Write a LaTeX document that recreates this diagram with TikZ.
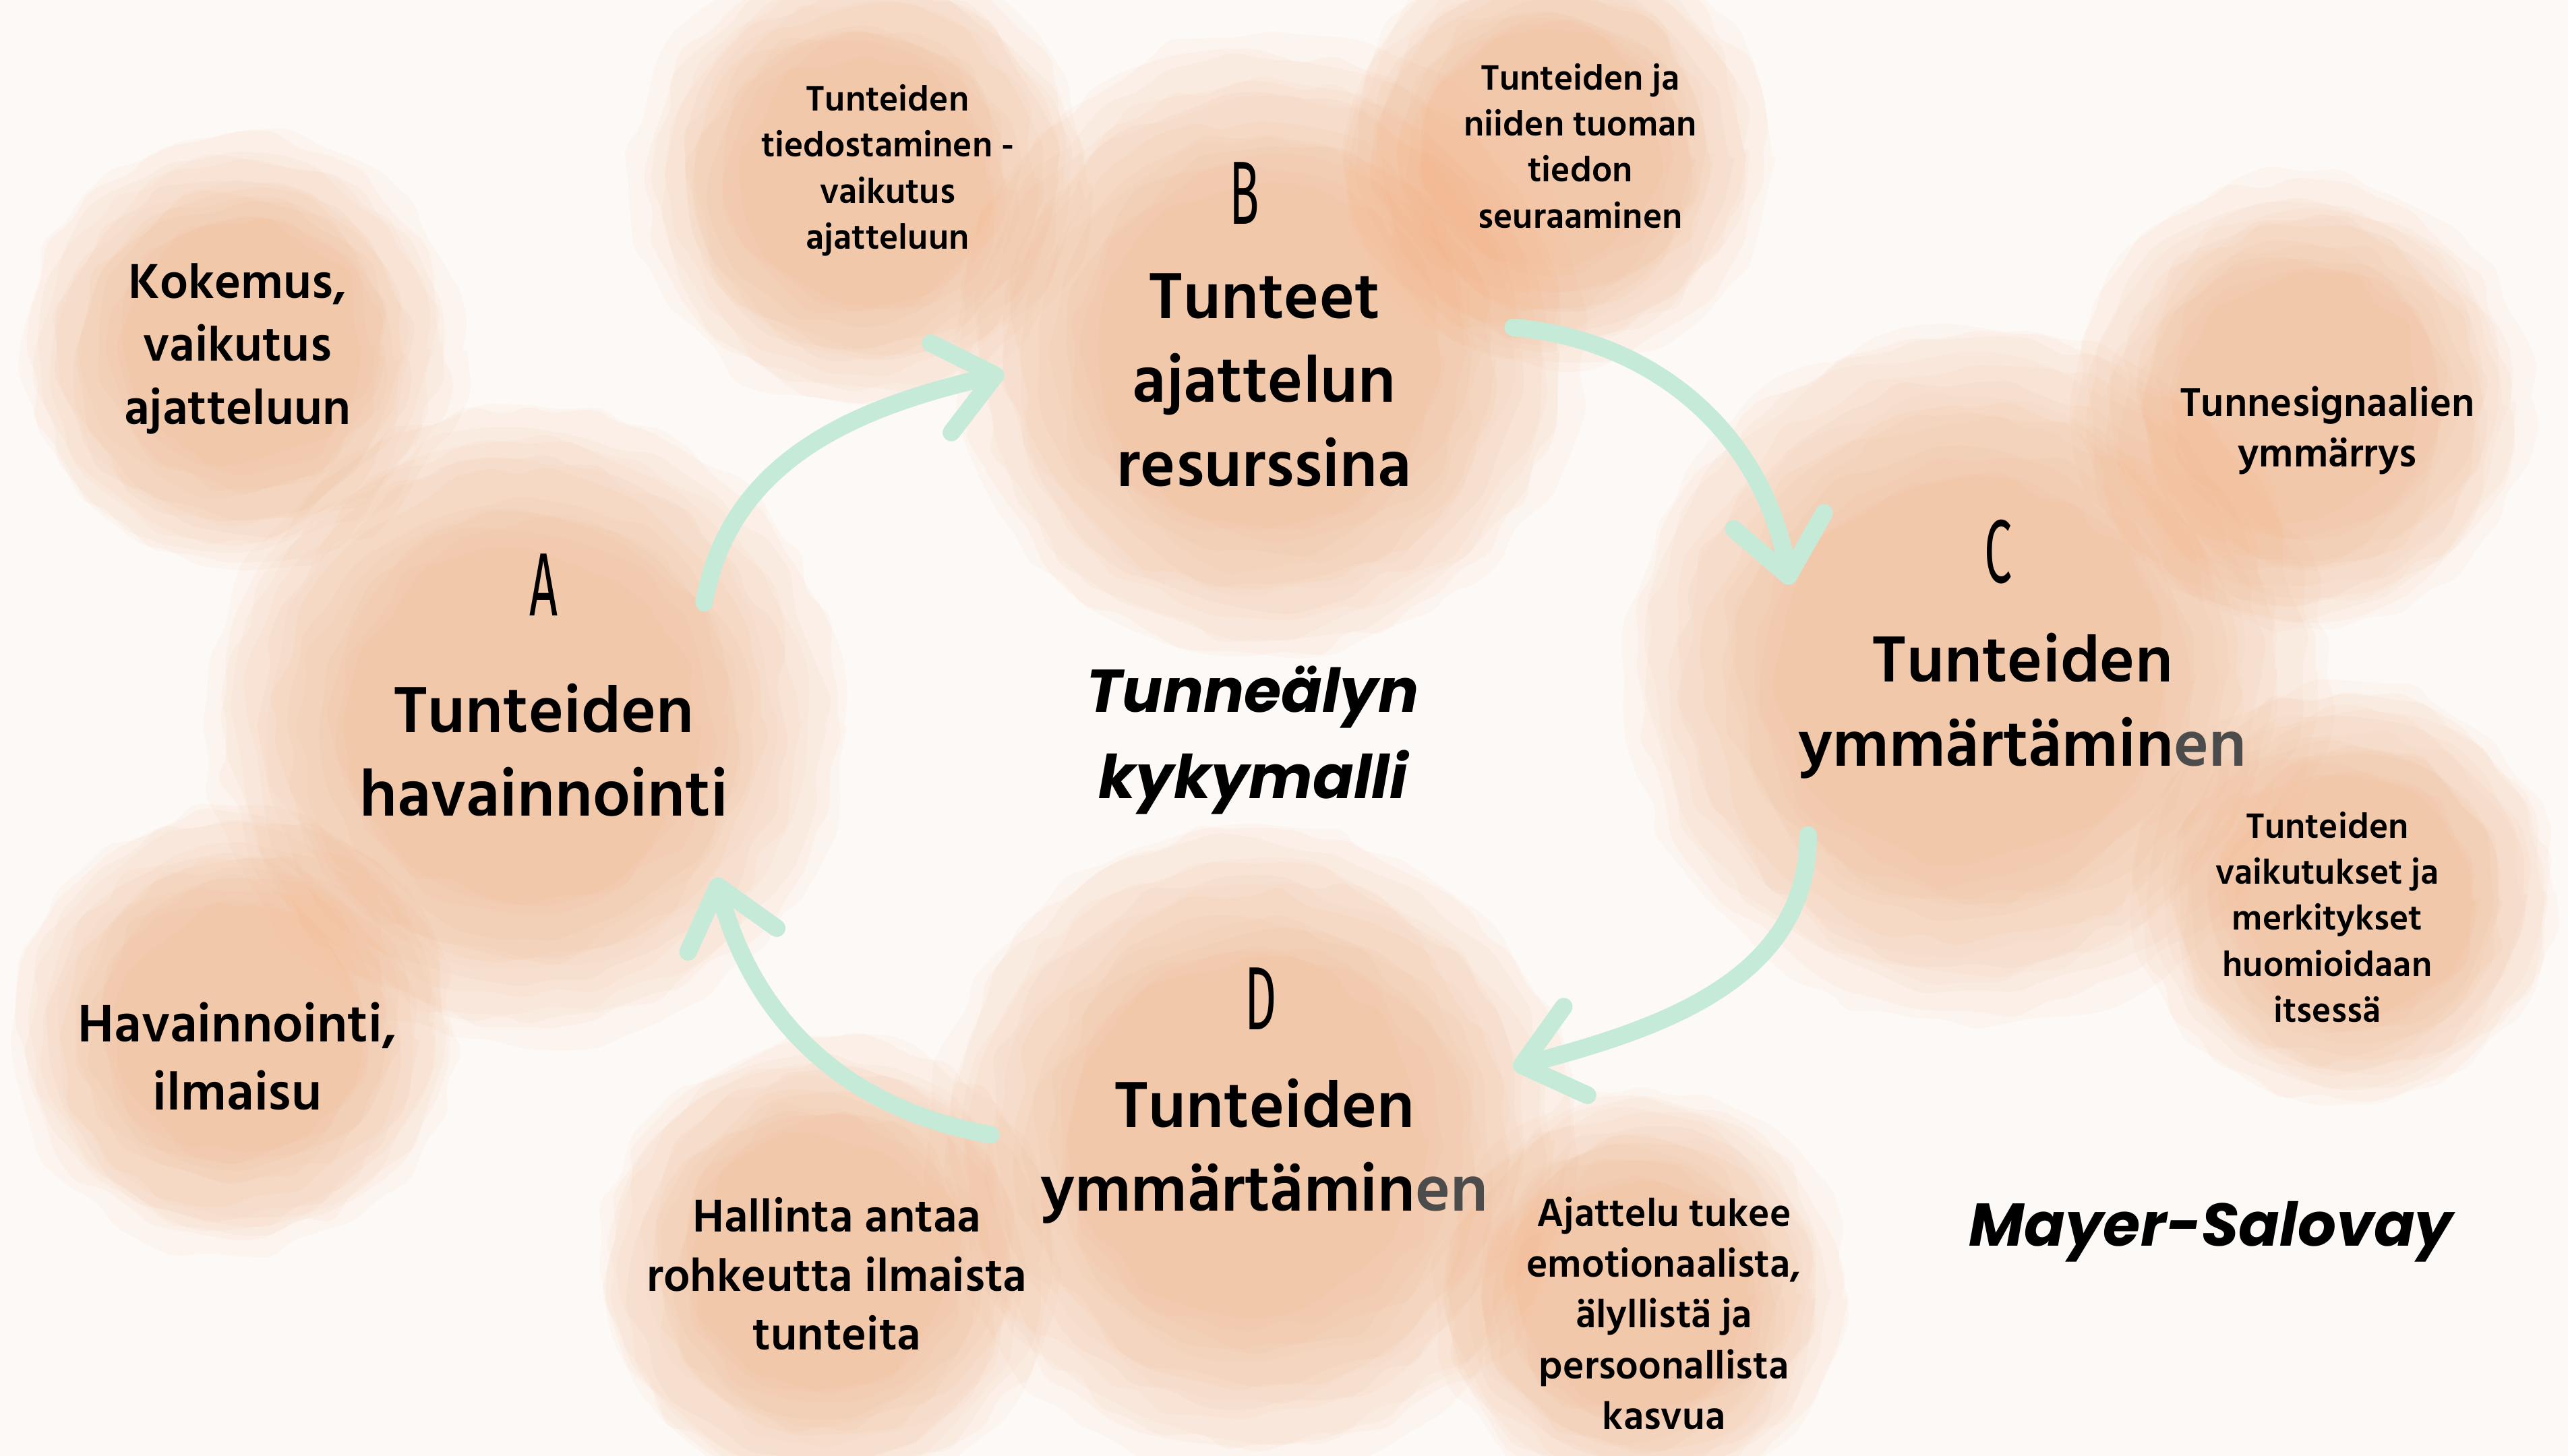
\documentclass[tikz,border=0pt]{standalone}
\usepackage{fontspec}
\usetikzlibrary{arrows.meta,decorations.pathmorphing,positioning}

\newfontfamily\hind{Hind Siliguri}
\newfontfamily\titlefont{Poppins}
\newfontfamily\letterfont{Fira Sans}[FakeStretch=0.55]

\definecolor{paper}{RGB}{253,249,246}
\definecolor{peach}{RGB}{242,165,112}
\definecolor{mint}{RGB}{198,234,216}

\tikzset{
  basic/.style     = {inner sep=0pt, align=center, text=black},
  letter/.style    = {basic, font=\letterfont\fontsize{39}{39}\selectfont},
  main/.style      = {basic, font=\hind\bfseries\fontsize{29}{36.5}\selectfont},
  side/.style      = {basic, font=\hind\bfseries\fontsize{15.7}{20}\selectfont},
  side big/.style  = {basic, font=\hind\bfseries\fontsize{21.8}{27.5}\selectfont},
  heading/.style   = {basic, font=\titlefont\bfseries\itshape\fontsize{26.2}{37.5}\selectfont},
  cycle arrow/.style = {draw=mint, line width=2.7mm, line cap=round,
                   -{Straight Barb[length=8.5mm,width=14mm,round]}},
  wash/.style      = {fill=peach, opacity=0.05, decorate,
                   decoration={random steps, segment length=5mm, amplitude=1.4mm},
                   rounded corners=1.5mm}
}

% one watercolour blob: x, y, radius
\newcommand{\wash}[3]{%
  \foreach \k in {0,...,13}
    \fill[wash] ({#1+6*rand},{#2+6*rand}) circle ({#3*(1-0.035*\k)});
}

\begin{document}
\begin{tikzpicture}[x=0.25mm,y=0.25mm]
\pgfmathsetseed{11}
\useasboundingbox (0,0) rectangle (1568,889);
\fill[paper] (0,0) rectangle (1568,889);

% blobs, back to front
\wash{318}{447}{195}
\wash{145}{674}{132}
\wash{145}{259}{135}
\wash{772}{674}{190}
\wash{527}{779}{137}
\wash{947}{794}{130}
\wash{1202}{479}{214}
\wash{1405}{644}{138}
\wash{1435}{339}{128}
\wash{765}{189}{197}
\wash{502}{119}{140}
\wash{1000}{99}{125}

% ends of the arrows
\coordinate (ab1) at (430,521);  \coordinate (ab2) at (613,661);
\coordinate (bc1) at (924,689);  \coordinate (bc2) at (1093,532);
\coordinate (cd1) at (1104,379); \coordinate (cd2) at (924,237);
\coordinate (da1) at (605,196);  \coordinate (da2) at (437,353);

\draw[cycle arrow] (ab1) to[out=80,in=193] (ab2);
\draw[cycle arrow] (bc1) to[out=-5,in=100] (bc2);
\draw[cycle arrow] (cd1) to[out=-90,in=15] (cd2);
\draw[cycle arrow] (da1) to[out=170,in=-75] (da2);

% A
\node[letter] (la) at (332,532) {A};
\node[main] (ta) at (332,431) {Tunteiden\\havainnointi};
\node[side big] (a1) at (145,676) {Kokemus,\\vaikutus\\ajatteluun};
\node[side big, font=\hind\bfseries\fontsize{23.5}{29.5}\selectfont] (a2) at (145,244) {Havainnointi,\\ilmaisu};

% B
\node[letter] (lb) at (760,771) {B};
\node[main] (tb) at (772,657) {Tunteet\\ajattelun\\resurssina};
\node[side] (b1) at (542,785) {Tunteiden\\tiedostaminen -\\vaikutus\\ajatteluun};
\node[side] (b2) at (965,800) {Tunteiden ja\\niiden tuoman\\tiedon\\seuraaminen};

% C
\node[letter] (lc) at (1220,552) {C};
\node[main] (tc) at (1235,458) {Tunteiden\\ymmärtämin{\color{black!70}en}};
\node[side, font=\hind\bfseries\fontsize{17.8}{22}\selectfont] (c1) at (1421,626) {Tunnesignaalien\\ymmärrys};
\node[side] (c2) at (1421,329) {Tunteiden\\vaikutukset ja\\merkitykset\\huomioidaan\\itsessä};

% D
\node[letter] (ld) at (770,279) {D};
\node[main] (td) at (772,186) {Tunteiden\\ymmärtämin{\color{black!70}en}};
\node[side, font=\hind\bfseries\fontsize{20.5}{25.6}\selectfont] (d1) at (511,111) {Hallinta antaa\\rohkeutta ilmaista\\tunteita};
\node[side, font=\hind\bfseries\fontsize{17.5}{22}\selectfont] (d2) at (1016,87) {Ajattelu tukee\\emotionaalista,\\älyllistä ja\\persoonallista\\kasvua};

% titles
\node[heading] (title) at (765,437) {Tunneälyn\\kykymalli};
\node[heading] (names) at (1350,137) {Mayer-Salovay};
\end{tikzpicture}
\end{document}
